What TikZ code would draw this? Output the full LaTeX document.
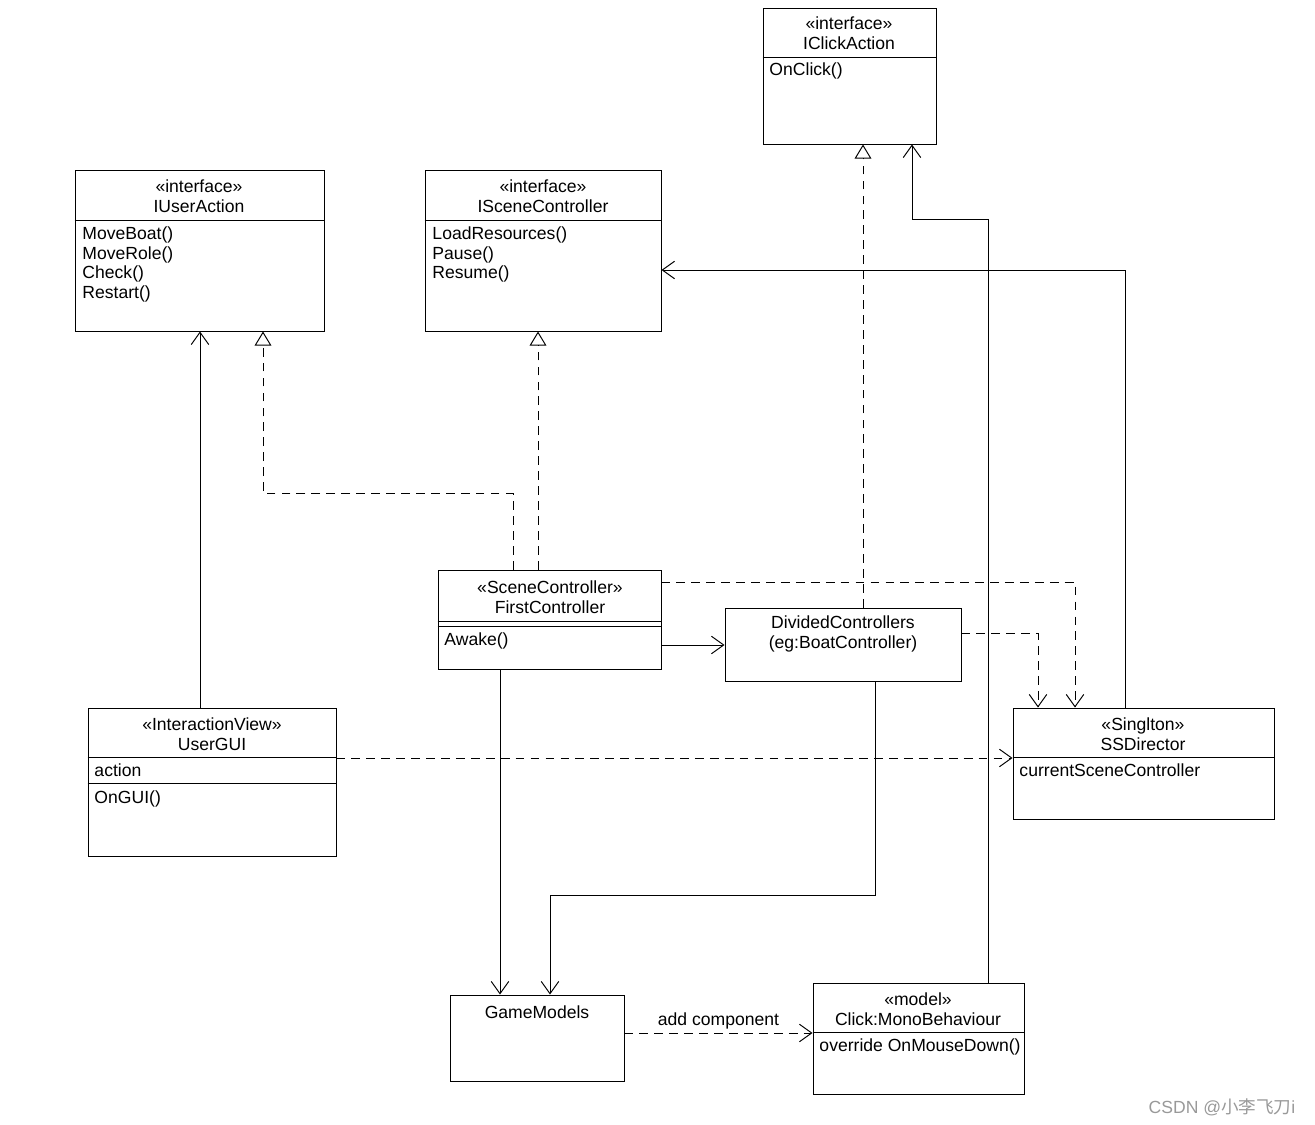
\documentclass[tikz,border=0pt]{standalone}
\usepackage{fontspec}
\setmainfont{Liberation Sans}
\newfontfamily\cjk{Noto Sans CJK SC}
\usetikzlibrary{arrows.meta,fit}

\begin{document}
\begin{tikzpicture}[x=0.02cm,y=-0.02cm,line width=0.55pt,
    font=\fontsize{10}{11.3}\selectfont,
    assoc/.style={-{Straight Barb[length=7pt,width=10pt]}},
    dep/.style={assoc,dash pattern=on 5pt off 3.5pt},
    real/.style={-{Triangle[open,length=8pt,width=9.5pt]},dash pattern=on 5pt off 3.5pt}]

  \useasboundingbox (0,0) rectangle (1315,1125);

  \begin{scope}[every node/.style={draw,inner sep=0pt}]
    \node[fit={(763,8)(936,144)}]    (ic)    {};
    \node[fit={(75,170)(324,331)}]   (ua)    {};
    \node[fit={(425,170)(661,331)}]  (sc)    {};
    \node[fit={(438,570)(661,669)}]  (fc)    {};
    \node[fit={(725,608)(961,681)}]  (dc)    {};
    \node[fit={(88,708)(336,856)}]   (gui)   {};
    \node[fit={(1013,708)(1274,819)}] (ssd)  {};
    \node[fit={(450,995)(624,1081)}] (gm)    {};
    \node[fit={(813,983)(1024,1094)}] (click) {};
  \end{scope}

  \draw (ic.west |- 0,57) -- (ic.east |- 0,57);
  \draw (ua.west |- 0,220) -- (ua.east |- 0,220);
  \draw (sc.west |- 0,220) -- (sc.east |- 0,220);
  \draw (fc.west |- 0,621) -- (fc.east |- 0,621);
  \draw (fc.west |- 0,626) -- (fc.east |- 0,626);
  \draw (gui.west |- 0,757) -- (gui.east |- 0,757);
  \draw (gui.west |- 0,783) -- (gui.east |- 0,783);
  \draw (ssd.west |- 0,757) -- (ssd.east |- 0,757);
  \draw (click.west |- 0,1032) -- (click.east |- 0,1032);

  \begin{scope}[every node/.style={inner sep=0pt}]
    \node[align=center] (icname)    at (849,33)   {«interface»\\IClickAction};
    \node[align=center] (uaname)    at (199,196)  {«interface»\\IUserAction};
    \node[align=center] (scname)    at (543,196)  {«interface»\\ISceneController};
    \node[align=center] (fcname)    at (550,597)  {«SceneController»\\FirstController};
    \node[align=center] (dcname)    at (843,634)  {DividedControllers\\(eg:BoatController)};
    \node[align=center] (guiname)   at (212,734)  {«InteractionView»\\UserGUI};
    \node[align=center] (ssdname)   at (1143,734) {«Singlton»\\SSDirector};
    \node               (gmname)    at (537,1012) {GameModels};
    \node[align=center] (clickname) at (918,1009) {«model»\\Click:MonoBehaviour};

    \node[anchor=north west,align=left] (icops)    at (769,62)   {OnClick()};
    \node[anchor=north west,align=left] (uaops)    at (82,226)   {MoveBoat()\\MoveRole()\\Check()\\Restart()};
    \node[anchor=north west,align=left] (scops)    at (432,226)  {LoadResources()\\Pause()\\Resume()};
    \node[anchor=north west,align=left] (fcops)    at (444,632)  {Awake()};
    \node[anchor=north west,align=left] (guiattr)  at (94,763)   {action};
    \node[anchor=north west,align=left] (guiops)   at (94,790)   {OnGUI()};
    \node[anchor=north west,align=left] (ssdattr)  at (1019,763) {currentSceneController};
    \node[anchor=north west,align=left] (clickops) at (819,1038) {override OnMouseDown()};

    \node[text=black!40] (mark) at (1222,1107) {CSDN @{\cjk 小李飞刀}i};
  \end{scope}

  \draw[assoc] (gui.north -| 200,0) -- (ua.south -| 200,0);
  \draw[real] (fc.north -| 513,0) -- ++(0,-76) -| (ua.south -| 263,0);
  \draw[real] (fc.north -| 538,0) -- (sc.south -| 538,0);
  \draw[real] (dc.north -| 863,0) -- (ic.south -| 863,0);
  \draw[assoc] (click.north -| 988,0) -- ++(0,-763) -| (ic.south -| 912,0);
  \draw[assoc] (ssd.north -| 1125,0) |- (sc.east |- 0,270);
  \draw[dep] (fc.east |- 0,582) -| (ssd.north -| 1075,0);
  \draw[dep] (dc.east |- 0,633) -| (ssd.north -| 1038,0);
  \draw[assoc] (fc.east |- 0,645) -- (dc.west |- 0,645);
  \draw[dep] (gui.east |- 0,758) -- (ssd.west |- 0,758);
  \draw[assoc] (fc.south -| 500,0) -- (gm.north -| 500,0);
  \draw[assoc] (dc.south -| 875,0) -- ++(0,214) -| (gm.north -| 550,0);
  \draw[dep] (gm.east |- 0,1033) -- node[above=-1.5pt] {add component} (click.west |- 0,1033);

\end{tikzpicture}
\end{document}
